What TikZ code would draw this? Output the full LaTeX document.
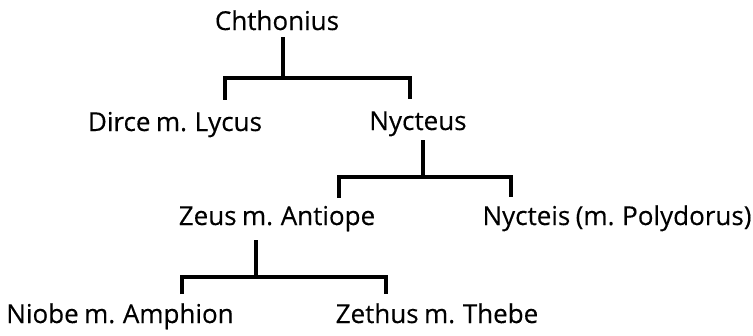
\documentclass[tikz,border=0pt]{standalone}
\usepackage{fontspec}
\setmainfont{Open Sans}[WordSpace=0.8,FakeBold=0.3]
\begin{document}
\begin{tikzpicture}[x=1pt,y=-1pt,
    person/.style={anchor=base,inner sep=0pt,font=\fontsize{26}{30}\selectfont},
    famline/.style={line width=3.5pt}]
  \useasboundingbox (0,0) rectangle (753,335);
  % generations
  \node[person] (chthonius) at (277,30) {Chthonius};
  \node[person] (dirce) at (175,131) {Dirce m. Lycus};
  \node[person] (nycteus) at (418,130) {Nycteus};
  \node[person] (zeus) at (277,225) {Zeus m. Antiope};
  \node[person] (nycteis) at (617,225) {Nycteis (m. Polydorus)};
  \node[person] (niobe) at (120,323) {Niobe m. Amphion};
  \node[person] (zethus) at (437,323) {Zethus m. Thebe};
  % children of Chthonius
  \coordinate (j1) at (283,78);
  \coordinate (j1l) at (225,78);
  \coordinate (j1r) at (410,78);
  \draw[famline] ([yshift=-7pt]chthonius.base -| j1) -- (j1);
  \draw[famline] ([yshift=12pt]dirce.north -| j1l) -- (j1l) -- (j1r)
    -- ([yshift=12pt]nycteus.north -| j1r);
  % children of Nycteus
  \coordinate (j2) at (423,177);
  \coordinate (j2l) at (339,177);
  \coordinate (j2r) at (511,177);
  \draw[famline] ([yshift=-10pt]nycteus.base -| j2) -- (j2);
  \draw[famline] ([yshift=8pt]zeus.north -| j2l) -- (j2l) -- (j2r)
    -- ([yshift=8pt]nycteis.north -| j2r);
  % children of Zeus and Antiope
  \coordinate (j3) at (256,277);
  \coordinate (j3l) at (182,277);
  \coordinate (j3r) at (386,277);
  \draw[famline] ([yshift=-15pt]zeus.base -| j3) -- (j3);
  \draw[famline] ([yshift=9pt]niobe.north -| j3l) -- (j3l) -- (j3r)
    -- ([yshift=9pt]zethus.north -| j3r);
\end{tikzpicture}
\end{document}
